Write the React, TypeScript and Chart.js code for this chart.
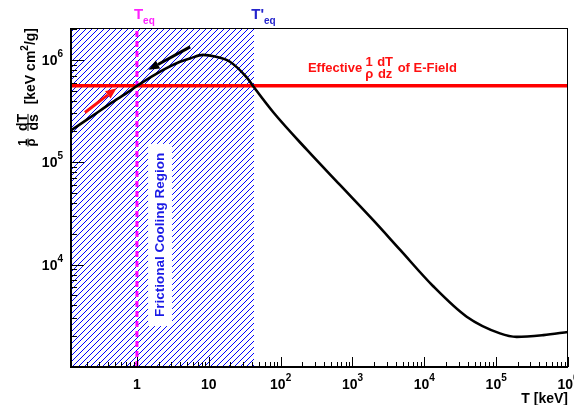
import React, { useEffect, useRef } from 'react';
import { Chart, registerables } from 'chart.js';

Chart.register(...registerables);

// ---------- data ----------
const T_keV = [0.117, 0.246, 0.42, 0.8, 1, 2.32, 3.97, 5.47, 8.3, 12.2, 19.7, 33.7, 41.2, 79, 233, 670, 1930, 4580, 13300, 38900, 113000, 193000, 454000, 1000000];
const stoppingPower = [2.02e5, 2.87e5, 3.72e5, 4.98e5, 5.57e5, 7.98e5, 9.6e5, 1.035e6, 1.12e6, 1.08e6, 9.6e5, 6.75e5, 5.57e5, 3.08e5, 1.32e5, 6.0e4, 2.73e4, 1.4e4, 6150, 3100, 2130, 1970, 2050, 2200];
const E_FIELD = 5.6e5;
const T_EQ = 1;
const T_EQ_PRIME = 43;
const X_MIN = 0.117;
const X_MAX = 1e6;
const Y_MIN = 1e3;
const Y_MAX = 2.05e6;
const X_LABELS: [number, string, string][] = [
  [1, '1', ''], [10, '10', ''], [1e2, '10', '2'], [1e3, '10', '3'], [1e4, '10', '4'], [1e5, '10', '5'], [1e6, '10', '6'],
];
const Y_LABELS: [number, string, string][] = [[1e4, '10', '4'], [1e5, '10', '5'], [1e6, '10', '6']];
const BLACK_ARROW = { from: [5.5, 1.34e6], to: [1.44, 8.0e5] };
const RED_ARROW = { from: [0.189, 3.06e5], to: [0.52, 5.29e5] };
const REGION_LABEL = 'Frictional Cooling Region';
const REGION_ANCHOR = [2.1, 1.95e4];
const EFIELD_LABEL_T = 240;

const FAM = '"Liberation Sans", Arial, Helvetica, sans-serif';
const bold = (s: number) => `bold ${s}px ${FAM}`;

function arrow(ctx: CanvasRenderingContext2D, x0: number, y0: number, x1: number, y1: number, color: string) {
  const ang = Math.atan2(y1 - y0, x1 - x0);
  const hl = 11, hw = 4.5;
  const bx = x1 - hl * Math.cos(ang), by = y1 - hl * Math.sin(ang);
  ctx.save();
  ctx.strokeStyle = color; ctx.fillStyle = color; ctx.lineWidth = 3; ctx.lineCap = 'butt';
  ctx.beginPath(); ctx.moveTo(x0, y0); ctx.lineTo(bx, by); ctx.stroke();
  ctx.beginPath();
  ctx.moveTo(x1, y1);
  ctx.lineTo(bx + hw * Math.sin(ang), by - hw * Math.cos(ang));
  ctx.lineTo(bx - hw * Math.sin(ang), by + hw * Math.cos(ang));
  ctx.closePath(); ctx.fill();
  ctx.restore();
}

// draws a fraction starting at x; returns width
function frac(ctx: CanvasRenderingContext2D, x: number, numBase: number, denBase: number, num: string, den: string, size: number, bar: number | null) {
  ctx.font = bold(size);
  const wn = ctx.measureText(num).width, wd = ctx.measureText(den).width;
  const w = Math.max(wn, wd);
  ctx.textAlign = 'center';
  ctx.textBaseline = 'alphabetic';
  ctx.fillText(num, x + w / 2, numBase);
  ctx.fillText(den, x + w / 2, denBase);
  if (bar !== null) {
    ctx.fillRect(x, bar - 0.5, w, 1);
  }
  ctx.textAlign = 'left';
  return w;
}

const overlay = {
  id: 'overlay',
  beforeDatasetsDraw(chart: any) {
    const { ctx, chartArea: a, scales: { x } } = chart;
    const left = Math.round(a.left);
    const right = Math.round(x.getPixelForValue(T_EQ_PRIME));
    const top = Math.round(a.top);
    const bottom = Math.round(a.bottom);
    ctx.save();
    ctx.fillStyle = 'rgb(0,0,255)';
    for (let py = top; py < bottom; py++) {
      for (let px = left; px < right; px++) {
        if ((px + py) % 6 === 0) ctx.fillRect(px, py, 1, 1);
      }
    }
    ctx.restore();
  },
  afterDatasetsDraw(chart: any) {
    const { ctx, scales: { x, y } } = chart;
    // arrows
    arrow(ctx, x.getPixelForValue(BLACK_ARROW.from[0]), y.getPixelForValue(BLACK_ARROW.from[1]),
      x.getPixelForValue(BLACK_ARROW.to[0]), y.getPixelForValue(BLACK_ARROW.to[1]), '#000000');
    arrow(ctx, x.getPixelForValue(RED_ARROW.from[0]), y.getPixelForValue(RED_ARROW.from[1]),
      x.getPixelForValue(RED_ARROW.to[0]), y.getPixelForValue(RED_ARROW.to[1]), '#ff1010');

    // region label with white box
    const cx = x.getPixelForValue(REGION_ANCHOR[0]);
    const cy = y.getPixelForValue(REGION_ANCHOR[1]);
    ctx.save();
    ctx.translate(cx, cy);
    ctx.rotate(-Math.PI / 2);
    ctx.font = bold(13.5);
    const w = ctx.measureText(REGION_LABEL).width;
    ctx.fillStyle = '#ffffff';
    ctx.fillRect(-w / 2 - 9, -12, w + 18, 24);
    ctx.fillStyle = '#1a1ae6';
    ctx.textAlign = 'center';
    ctx.textBaseline = 'middle';
    ctx.fillText(REGION_LABEL, 0, 0.5);
    ctx.restore();

    // E-field label
    const ry = y.getPixelForValue(E_FIELD);
    let ex = x.getPixelForValue(EFIELD_LABEL_T);
    ctx.save();
    ctx.fillStyle = '#ff1010';
    ctx.font = bold(13);
    ctx.textAlign = 'left';
    ctx.textBaseline = 'alphabetic';
    ctx.fillText('Effective', ex, ry - 14);
    ex += ctx.measureText('Effective').width + 3;
    ex += frac(ctx, ex, ry - 20, ry - 8, '1', 'ρ', 13, null) + 4;
    ex += frac(ctx, ex, ry - 20, ry - 8, 'dT', 'dz', 13, null) + 1;
    ctx.font = bold(13);
    ctx.fillText(' of E-Field', ex, ry - 14);
    ctx.restore();
  },
  afterDraw(chart: any) {
    const { ctx, chartArea: a, scales: { x, y } } = chart;
    ctx.save();
    ctx.fillStyle = '#000';
    ctx.strokeStyle = '#000';
    // frame
    ctx.lineWidth = 1;
    ctx.strokeRect(Math.round(a.left) + 0.5, Math.round(a.top) + 0.5, Math.round(a.right - a.left) - 1, Math.round(a.bottom - a.top));
    ctx.lineWidth = 2;
    ctx.beginPath();
    ctx.moveTo(a.left + 1, a.top); ctx.lineTo(a.left + 1, a.bottom);
    ctx.moveTo(a.left, a.bottom); ctx.lineTo(a.right, a.bottom);
    ctx.stroke();

    // x ticks
    ctx.lineWidth = 1;
    ctx.beginPath();
    for (let e = -1; e <= 6; e++) {
      for (let m = 1; m <= 9; m++) {
        const v = m * Math.pow(10, e);
        if (v < X_MIN || v > X_MAX * 1.0001) continue;
        const px = Math.round(x.getPixelForValue(v)) + 0.5;
        const len = m === 1 ? 10 : 5;
        ctx.moveTo(px, a.bottom); ctx.lineTo(px, a.bottom - len);
      }
    }
    // y ticks
    for (let e = 3; e <= 6; e++) {
      for (let m = 1; m <= 9; m++) {
        const v = m * Math.pow(10, e);
        if (v < Y_MIN || v > Y_MAX) continue;
        const py = Math.round(y.getPixelForValue(v)) + 0.5;
        const len = m === 1 ? 14 : 7;
        ctx.moveTo(a.left, py); ctx.lineTo(a.left + len, py);
      }
    }
    ctx.stroke();

    // x labels
    ctx.textBaseline = 'alphabetic';
    for (const [v, base, sup] of X_LABELS) {
      const px = x.getPixelForValue(v);
      ctx.font = bold(14);
      const wb = ctx.measureText(base).width;
      ctx.font = bold(10);
      const ws = sup ? ctx.measureText(sup).width : 0;
      const x0 = px - (wb + ws) / 2;
      ctx.font = bold(14);
      ctx.textAlign = 'left';
      ctx.fillText(base, x0, a.bottom + 22);
      if (sup) { ctx.font = bold(10); ctx.fillText(sup, x0 + wb, a.bottom + 14); }
    }
    // y labels
    for (const [v, base, sup] of Y_LABELS) {
      const py = y.getPixelForValue(v);
      ctx.font = bold(10);
      const ws = ctx.measureText(sup).width;
      ctx.textAlign = 'right';
      ctx.fillText(sup, a.left - 7, py - 3);
      ctx.font = bold(14);
      ctx.fillText(base, a.left - 7 - ws, py + 5);
    }
    // x title
    ctx.font = bold(14);
    ctx.textAlign = 'right';
    ctx.fillText('T [keV]', a.right, a.bottom + 36);

    // T_eq labels
    ctx.textAlign = 'left';
    const tq = x.getPixelForValue(T_EQ) - 3;
    ctx.fillStyle = '#ff20ff';
    ctx.font = bold(15);
    ctx.fillText('T', tq, a.top - 9);
    const wt = ctx.measureText('T').width;
    ctx.font = bold(10);
    ctx.fillText('eq', tq + wt, a.top - 4);

    const tq2 = x.getPixelForValue(T_EQ_PRIME) - 3;
    ctx.fillStyle = '#2424cc';
    ctx.font = bold(15);
    ctx.fillText("T'", tq2, a.top - 9);
    const wt2 = ctx.measureText("T'").width;
    ctx.font = bold(10);
    ctx.fillText('eq', tq2 + wt2, a.top - 4);

    // y title (rotated)
    ctx.fillStyle = '#000';
    ctx.save();
    ctx.translate(0, a.top + 120);
    ctx.rotate(-Math.PI / 2);
    frac(ctx, 1.5, 26.5, 35, '1', 'ρ', 13, 28);
    frac(ctx, 17, 26.5, 38, 'dT', 'ds', 14, 28);
    ctx.font = bold(14);
    const p1 = '[keV cm', p2 = '/g]';
    const w1 = ctx.measureText(p1).width, w3 = ctx.measureText(p2).width;
    ctx.font = bold(10);
    const w2 = ctx.measureText('2').width;
    const start = 120 - (w1 + w2 + w3);
    ctx.font = bold(14);
    ctx.textAlign = 'left';
    ctx.fillText(p1, start, 35);
    ctx.font = bold(10);
    ctx.fillText('2', start + w1, 28);
    ctx.font = bold(14);
    ctx.fillText(p2, start + w1 + w2, 35);
    ctx.restore();

    ctx.restore();
  },
};

export default function App() {
  const ref = useRef<HTMLCanvasElement | null>(null);
  useEffect(() => {
    if (!ref.current) return;
    const chart = new Chart(ref.current, {
      type: 'line',
      data: {
        datasets: [
          {
            label: 'dT/ds',
            data: T_keV.map((t, i) => ({ x: t, y: stoppingPower[i] })),
            borderColor: '#000000',
            borderWidth: 2.6,
            pointRadius: 0,
            cubicInterpolationMode: 'monotone',
            fill: false,
            order: 0,
          },
          {
            label: 'T_eq',
            data: [{ x: T_EQ, y: Y_MIN }, { x: T_EQ, y: Y_MAX }],
            borderColor: '#ff00ff',
            borderWidth: 3,
            borderDash: [6, 4],
            pointRadius: 0,
            fill: false,
            order: 1,
          },
          {
            label: 'E-field',
            data: [{ x: X_MIN, y: E_FIELD }, { x: X_MAX, y: E_FIELD }],
            borderColor: '#ff0000',
            borderWidth: 3.5,
            pointRadius: 0,
            fill: false,
            order: 2,
          },
        ],
      },
      options: {
        animation: false,
        responsive: true,
        maintainAspectRatio: false,
        devicePixelRatio: 1,
        layout: { padding: { left: 70, right: 6, top: 28, bottom: 38 } },
        scales: {
          x: { type: 'logarithmic', min: X_MIN, max: X_MAX, bounds: 'data', display: false },
          y: { type: 'logarithmic', min: Y_MIN, max: Y_MAX, bounds: 'data', display: false },
        },
        plugins: { legend: { display: false }, tooltip: { enabled: false } },
        events: [],
      },
      plugins: [overlay],
    } as any);
    return () => chart.destroy();
  }, []);
  return (
    <div style={{ position: 'fixed', left: 0, top: 0, width: 574, height: 405, background: '#fff' }}>
      <canvas ref={ref} />
    </div>
  );
}
